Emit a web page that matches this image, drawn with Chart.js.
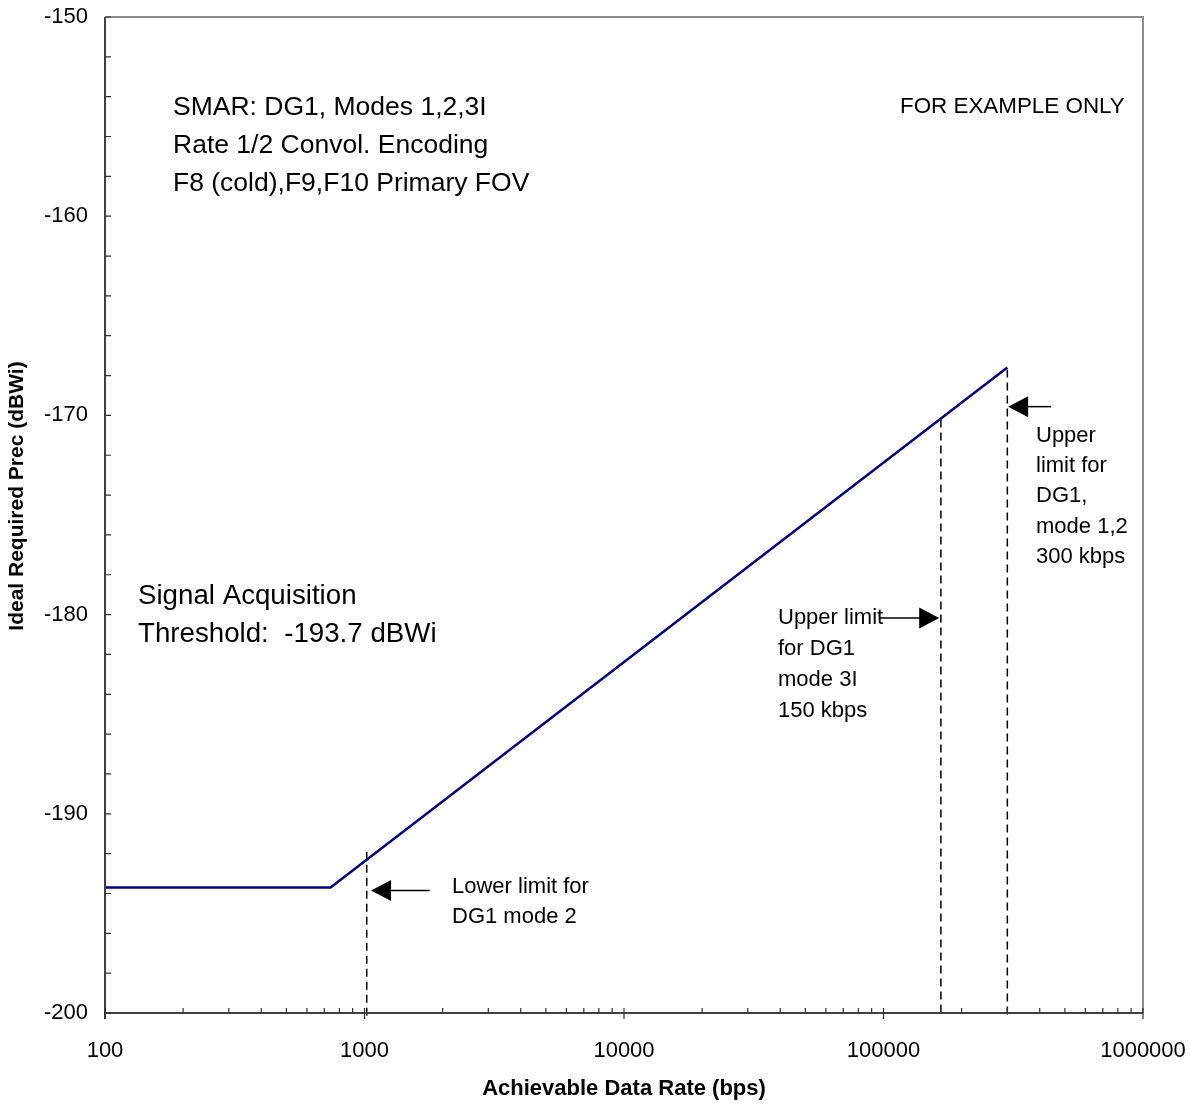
<!DOCTYPE html>
<html>
<head>
<meta charset="utf-8">
<script src="https://cdn.jsdelivr.net/npm/chart.js@4"></script>
<style>
  html, body { margin: 0; padding: 0; background: #fff; }
  #wrap { width: 1199px; height: 1107px; }
</style>
</head>
<body>
<div id="wrap"><canvas id="chart" width="1199" height="1107"></canvas></div>
<script>
// values
const xTickLabels = [100, 1000, 10000, 100000, 1000000];
const yTickLabels = [-200, -190, -180, -170, -160, -150];
const rateBps = [100, 740, 300000];
const precDbwi = [-193.7, -193.7, -167.6];
const limitRates = [1020, 166400, 300000];
const limitTops = [-191.9, -170.2, -167.7];
const arrowTails = [[1783, -193.85], [96300, -180.17], [442400, -169.56]];
const arrowTips = [[1060, -193.85], [163900, -180.17], [302200, -169.56]];

const FONT = "'Liberation Sans', Arial, sans-serif";
Chart.defaults.font.family = FONT;
Chart.defaults.color = '#000';

// text blocks, canvas px (left x, centre y of first line)
const notes = [
  { x: 173, y: 108, lh: 38, size: 26.5, lines: ['SMAR: DG1, Modes 1,2,3I', 'Rate 1/2 Convol. Encoding', 'F8 (cold),F9,F10 Primary FOV'] },
  { x: 900, y: 107, lh: 30, size: 22.4, lines: ['FOR EXAMPLE ONLY'] },
  { x: 138, y: 596, lh: 38, size: 27.7, lines: ['Signal Acquisition', 'Threshold:  -193.7 dBWi'] },
  { x: 452, y: 887, lh: 30, size: 22, lines: ['Lower limit for', 'DG1 mode 2'] },
  { x: 778, y: 618, lh: 31, size: 22, lines: ['Upper limit', 'for DG1', 'mode 3I', '150 kbps'] },
  { x: 1036, y: 436, lh: 30.2, size: 22, lines: ['Upper', 'limit for', 'DG1,', 'mode 1,2', '300 kbps'] }
];

const frame = {
  id: 'frame',
  afterDatasetsDraw(chart) {
    const { ctx, chartArea: a, scales: { x, y } } = chart;
    ctx.save();
    // top / right in grey, axes darker
    ctx.lineWidth = 2;
    ctx.strokeStyle = '#8c8c8c';
    ctx.beginPath();
    ctx.moveTo(a.left, a.top); ctx.lineTo(a.right, a.top); ctx.lineTo(a.right, a.bottom);
    ctx.stroke();
    ctx.strokeStyle = '#404040';
    ctx.beginPath();
    ctx.moveTo(a.left, a.top); ctx.lineTo(a.left, a.bottom + 6);
    ctx.moveTo(a.left, a.bottom); ctx.lineTo(a.right, a.bottom);
    ctx.stroke();

    ctx.lineWidth = 1.2;
    ctx.strokeStyle = '#303030';
    ctx.beginPath();
    xTickLabels.forEach((d, i) => {
      const px = x.getPixelForValue(d);
      ctx.moveTo(px, a.bottom - 5); ctx.lineTo(px, a.bottom + 6);
      if (i === xTickLabels.length - 1) return;
      for (let m = 2; m <= 9; m++) {
        const mx = x.getPixelForValue(d * m);
        ctx.moveTo(mx, a.bottom - 5); ctx.lineTo(mx, a.bottom);
      }
    });
    for (let v = y.min; v <= y.max; v += 2) {
      const py = y.getPixelForValue(v);
      ctx.moveTo(a.left, py); ctx.lineTo(a.left + 6, py);
    }
    ctx.stroke();

    // arrows
    ctx.fillStyle = '#000';
    ctx.strokeStyle = '#000';
    ctx.lineWidth = 1.5;
    arrowTails.forEach((t, i) => {
      const x1 = x.getPixelForValue(t[0]), y1 = y.getPixelForValue(t[1]);
      const x2 = x.getPixelForValue(arrowTips[i][0]), y2 = y.getPixelForValue(arrowTips[i][1]);
      const dir = Math.sign(x2 - x1);
      ctx.beginPath();
      ctx.moveTo(x1, y1); ctx.lineTo(x2 - dir * 18, y2);
      ctx.stroke();
      ctx.beginPath();
      ctx.moveTo(x2, y2);
      ctx.lineTo(x2 - dir * 20, y2 - 10.5);
      ctx.lineTo(x2 - dir * 20, y2 + 10.5);
      ctx.closePath();
      ctx.fill();
    });

    // notes
    ctx.textAlign = 'left';
    ctx.textBaseline = 'middle';
    notes.forEach(n => {
      ctx.font = n.size + 'px ' + FONT;
      n.lines.forEach((l, k) => ctx.fillText(l, n.x, n.y + k * n.lh));
    });

    // y axis title
    ctx.translate(17, 496);
    ctx.rotate(-Math.PI / 2);
    ctx.textAlign = 'center';
    ctx.font = 'bold 21px ' + FONT;
    ctx.fillText('Ideal Required Prec (dBWi)', 0, 0);
    ctx.restore();
  }
};

const datasets = [{
  data: rateBps.map((r, i) => ({ x: r, y: precDbwi[i] })),
  borderColor: '#000080',
  borderWidth: 2.5,
  pointRadius: 0,
  showLine: true,
  tension: 0
}];
limitRates.forEach((r, i) => {
  datasets.push({
    data: [{ x: r, y: limitTops[i] }, { x: r, y: -200.2 }],
    borderColor: '#000',
    borderWidth: 1.5,
    borderDash: [8, 5],
    pointRadius: 0,
    showLine: true,
    clip: false
  });
});

new Chart(document.getElementById('chart'), {
  type: 'scatter',
  data: { datasets },
  options: {
    responsive: false,
    animation: false,
    devicePixelRatio: 1,
    layout: { padding: { top: 17, right: 56, left: 0, bottom: 0 } },
    plugins: { legend: { display: false }, tooltip: { enabled: false } },
    scales: {
      x: {
        type: 'logarithmic',
        min: 100,
        max: 1000000,
        grid: { display: false, drawTicks: false },
        border: { display: false },
        afterBuildTicks: s => { s.ticks = xTickLabels.map(v => ({ value: v })); },
        afterFit: s => { s.height = 94; s.paddingLeft = 0; s.paddingRight = 0; },
        ticks: { autoSkip: false, maxRotation: 0, padding: 25, font: { size: 22 }, callback: v => String(v) },
        title: { display: true, text: 'Achievable Data Rate (bps)', font: { size: 22, weight: 'bold' }, padding: { top: 0, bottom: 5 } }
      },
      y: {
        min: -200,
        max: -150,
        grid: { display: false, drawTicks: false },
        border: { display: false },
        afterBuildTicks: s => { s.ticks = yTickLabels.map(v => ({ value: v })); },
        afterFit: s => { s.width = 105; s.paddingTop = 0; s.paddingBottom = 0; },
        ticks: { autoSkip: false, padding: 17, font: { size: 22 } }
      }
    }
  },
  plugins: [frame]
});
</script>
</body>
</html>
